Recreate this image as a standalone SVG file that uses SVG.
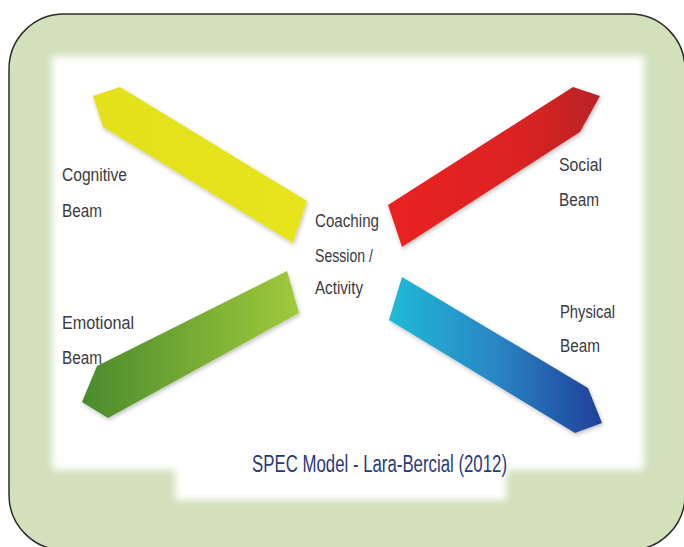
<svg xmlns="http://www.w3.org/2000/svg" width="684" height="547" viewBox="0 0 684 547">
<style>
.lbl{font-family:"Liberation Sans",Arial,sans-serif;font-size:17.5px;fill:#3a3a42}
.cap{font-family:"Liberation Sans",Arial,sans-serif;font-size:23px;fill:#2a3a78}
.beam{filter:url(#sh)}
</style>
<defs>
<filter id="soft" x="-5%" y="-5%" width="110%" height="110%"><feGaussianBlur stdDeviation="3.5"/></filter>
<filter id="sh" x="-10%" y="-10%" width="120%" height="130%"><feGaussianBlur in="SourceAlpha" stdDeviation="2"/><feOffset dx="1" dy="2"/><feComponentTransfer><feFuncA type="linear" slope="0.25"/></feComponentTransfer><feMerge><feMergeNode/><feMergeNode in="SourceGraphic"/></feMerge></filter>
<linearGradient id="gY" x1="0" y1="0" x2="1" y2="0"><stop offset="0" stop-color="#e4e01a"/><stop offset="1" stop-color="#e6e41e"/></linearGradient>
<linearGradient id="gR" x1="0" y1="0" x2="1" y2="0"><stop offset="0" stop-color="#ea2420"/><stop offset="0.6" stop-color="#dc2222"/><stop offset="1" stop-color="#bb2426"/></linearGradient>
<linearGradient id="gG" x1="0" y1="0" x2="1" y2="0"><stop offset="0" stop-color="#4a8b2c"/><stop offset="1" stop-color="#a0ca3c"/></linearGradient>
<linearGradient id="gB" x1="0" y1="0" x2="1" y2="0"><stop offset="0" stop-color="#20bad6"/><stop offset="0.5" stop-color="#2a86c4"/><stop offset="1" stop-color="#1f3f9a"/></linearGradient>
</defs>
<rect x="0" y="0" width="684" height="547" fill="#ffffff"/>
<rect id="frame" x="9" y="14" width="676" height="536" rx="55" ry="55" fill="#d2e0bc" stroke="#2e2e2e" stroke-width="1.5"/>
<path id="panel" d="M52 56 H644 V470 H506 V500 H175 V470 H52 Z" fill="#ffffff" filter="url(#soft)"/>
<g id="cognitive">
<polygon class="beam" points="120,87 307,201 293,243 103,127 93,96" fill="url(#gY)"/>
<text class="lbl" x="62" y="181" textLength="65" lengthAdjust="spacingAndGlyphs">Cognitive</text>
<text class="lbl" x="62" y="217" textLength="40" lengthAdjust="spacingAndGlyphs">Beam</text>
</g>
<g id="social">
<polygon class="beam" points="388,205 573,87 600,96 580,132 402,247" fill="url(#gR)"/>
<text class="lbl" x="559" y="171" textLength="43" lengthAdjust="spacingAndGlyphs">Social</text>
<text class="lbl" x="559" y="206" textLength="40" lengthAdjust="spacingAndGlyphs">Beam</text>
</g>
<g id="emotional">
<polygon class="beam" points="287,271 299,313 108,418 82,402 97,366" fill="url(#gG)"/>
<text class="lbl" x="62" y="329" textLength="72" lengthAdjust="spacingAndGlyphs">Emotional</text>
<text class="lbl" x="62" y="364" textLength="40" lengthAdjust="spacingAndGlyphs">Beam</text>
</g>
<g id="physical">
<polygon class="beam" points="402,277 588,388 602,423 575,433 389,320" fill="url(#gB)"/>
<text class="lbl" x="560" y="318" textLength="55" lengthAdjust="spacingAndGlyphs">Physical</text>
<text class="lbl" x="560" y="352" textLength="40" lengthAdjust="spacingAndGlyphs">Beam</text>
</g>
<g id="center">
<text class="lbl" x="315" y="227" textLength="64" lengthAdjust="spacingAndGlyphs">Coaching</text>
<text class="lbl" x="315" y="262" textLength="58" lengthAdjust="spacingAndGlyphs">Session /</text>
<text class="lbl" x="315" y="294" textLength="48" lengthAdjust="spacingAndGlyphs">Activity</text>
</g>
<g id="caption">
<text class="cap" x="252" y="472" textLength="255" lengthAdjust="spacingAndGlyphs">SPEC Model - Lara-Bercial (2012)</text>
</g>
</svg>
